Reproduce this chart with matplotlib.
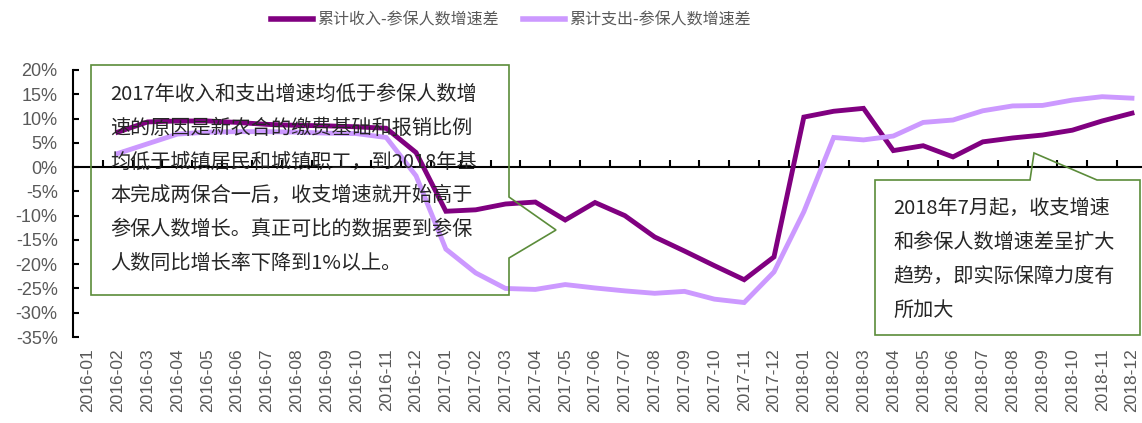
import matplotlib
matplotlib.use('Agg')

import numpy as np
import matplotlib.pyplot as plt
from matplotlib.patches import Polygon
from matplotlib.ticker import FuncFormatter, NullFormatter

# months 2016-01 .. 2018-12
months = ['%d-%02d' % (y, m) for y in (2016, 2017, 2018) for m in range(1, 13)]

# 累计收入-参保人数增速差 (%)
income_gap = [np.nan, 7.2, 9.3, 9.5, 9.5, 9.2, 8.8, 8.6, 8.5, 8.3, 8.0, 3.0,
              -9.1, -8.8, -7.6, -7.2, -10.9, -7.3, -10.0, -14.4, -17.3, -20.3, -23.2, -18.5,
              10.3, 11.5, 12.1, 3.4, 4.4, 2.1, 5.2, 6.0, 6.6, 7.6, 9.5, 11.1]

# 累计支出-参保人数增速差 (%)
expense_gap = [np.nan, 2.8, 4.8, 6.8, 7.2, 7.3, 7.3, 7.2, 7.0, 6.9, 6.1, -1.8,
               -16.9, -21.8, -25.0, -25.2, -24.2, -24.9, -25.5, -26.0, -25.6, -27.2, -27.9, -21.6,
               -9.2, 6.1, 5.6, 6.4, 9.2, 9.7, 11.6, 12.6, 12.7, 13.8, 14.5, 14.2]

series_names = ['累计收入-参保人数增速差', '累计支出-参保人数增速差']
series_colors = ['#800080', '#CC99FF']

note_left = ('2017年收入和支出增速均低于参保人数增\n'
             '速的原因是新农合的缴费基础和报销比例\n'
             '均低于城镇居民和城镇职工，到2018年基\n'
             '本完成两保合一后，收支增速就开始高于\n'
             '参保人数增长。真正可比的数据要到参保\n'
             '人数同比增长率下降到1%以上。')
note_right = ('2018年7月起，收支增速\n'
              '和参保人数增速差呈扩大\n'
              '趋势，即实际保障力度有\n'
              '所加大')

CJK = ['Noto Sans CJK SC', 'DejaVu Sans']
GRAY = '#595959'
GREEN = '#5B8C3A'
W, H = 1142, 423

plt.rcParams['font.family'] = CJK

fig = plt.figure(figsize=(W / 100, H / 100), dpi=100)


def px(x, y):
    # pixel position (origin top-left) -> figure fraction
    return x / W, 1 - y / H


left, top = px(73, 70)
right, bottom = px(73 + 36 * 29.83, 337)
ax = fig.add_axes([left, bottom, right - left, top - bottom])

x = np.arange(len(months))
for vals, name, col in zip([income_gap, expense_gap], series_names, series_colors):
    ax.plot(x, vals, color=col, lw=3.5, label=name, solid_joinstyle='miter', zorder=3)

ymin, ymax = -35, 20
ax.set_xlim(-0.5, len(months) - 0.5)
ax.set_ylim(ymin, ymax)
ax.set_yticks(np.arange(ymin, ymax + 1, 5))
ax.yaxis.set_major_formatter(FuncFormatter(lambda v, p: '%d%%' % v))
ax.tick_params(axis='y', direction='in', length=4, width=1.5, pad=11,
               labelsize=13, labelcolor=GRAY)
for lab in ax.get_yticklabels():
    lab.set_family('Liberation Sans')

ax.set_xticks(x)
ax.set_xticklabels(months, rotation=90, family='Liberation Sans')
ax.tick_params(axis='x', length=0, pad=8, labelsize=12.5, labelcolor=GRAY)

for side in ['top', 'right', 'bottom']:
    ax.spines[side].set_visible(False)
ax.spines['left'].set_linewidth(1.5)

# zero line with category boundary ticks pointing up
zero_ax = ax.secondary_xaxis((0 - ymin) / (ymax - ymin))
zero_ax.set_alignment('top')
zero_ax.spines['top'].set_linewidth(1.5)
zero_ax.set_xticks(np.arange(len(months)) + 0.5)
zero_ax.xaxis.set_major_formatter(NullFormatter())
zero_ax.tick_params(direction='out', length=5, width=1.5,
                    labelbottom=False, labeltop=False)

leg = fig.legend(loc='center', bbox_to_anchor=px(511, 20), ncol=2, frameon=False,
                 fontsize=11.5, handlelength=2.6, handletextpad=0.3, columnspacing=1.5)
for t in leg.get_texts():
    t.set_color(GRAY)
for line in leg.get_lines():
    line.set_linewidth(4)

# callout boxes
box_left = [(91, 65), (509, 65), (509, 197), (556, 230), (509, 258), (509, 295), (91, 295)]
box_right = [(875, 180), (1030, 180), (1034, 153), (1097, 180), (1140, 180), (1140, 335), (875, 335)]
for pts in (box_left, box_right):
    fig.patches.append(Polygon([px(a, b) for a, b in pts], closed=True, fill=False,
                               edgecolor=GREEN, lw=1.2, transform=fig.transFigure,
                               figure=fig))

fig.text(*px(110, 84), note_left, va='top', ha='left', fontsize=14.5,
         color='#262626', linespacing=1.8, zorder=5)
fig.text(*px(893, 198), note_right, va='top', ha='left', fontsize=14.5,
         color='#262626', linespacing=1.8, zorder=5)

fig.savefig('out.png', dpi=100)
